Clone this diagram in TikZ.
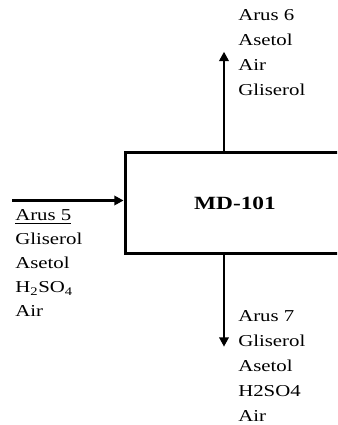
\documentclass[tikz,border=0pt]{standalone}
\usepackage{fontspec}
\setmainfont[FakeStretch=1.25]{Liberation Serif}
\usetikzlibrary{arrows.meta,positioning,calc}

\begin{document}
\begin{tikzpicture}[x=0.75pt, y=0.75pt,
    flow/.style={line width=1.8pt, -{Triangle[length=7pt,width=7pt]}},
    unit/.style={draw, line width=2.6pt, minimum width=164.5pt, minimum height=75.75pt,
        font=\fontsize{14}{16}\selectfont\bfseries},
    stream/.style={anchor=north west, inner sep=0pt, align=left,
        font=\fontsize{12.5}{18.75}\selectfont}]
    \useasboundingbox (0, 0) rectangle (337, 425);
    \clip (0, 0) rectangle (337, 425);
    \node[unit] (md) at (235, 221.8) {MD-101};
    % streams in and out
    \coordinate (feed) at (12, 224.5);
    \coordinate (top) at (224, 373.3);
    \coordinate (bot) at (224, 78.3);
    \draw[flow] (feed) -- (feed -| md.west);
    \draw[flow] (md.north -| top) -- (top);
    \draw[flow] (md.south -| bot) -- (bot);
    \node[stream] (arus6) at (238, 415.6) {Arus 6\\Asetol\\Air\\Gliserol};
    \node[stream, font=\fontsize{12.5}{18}\selectfont] (arus5) at (15, 215.3)
        {\underline{Arus 5}\\Gliserol\\Asetol\\H\textsubscript{2}SO\textsubscript{4}\\Air};
    \node[stream] (arus7) at (238, 114.6) {Arus 7\\Gliserol\\Asetol\\H2SO4\\Air};
\end{tikzpicture}
\end{document}
